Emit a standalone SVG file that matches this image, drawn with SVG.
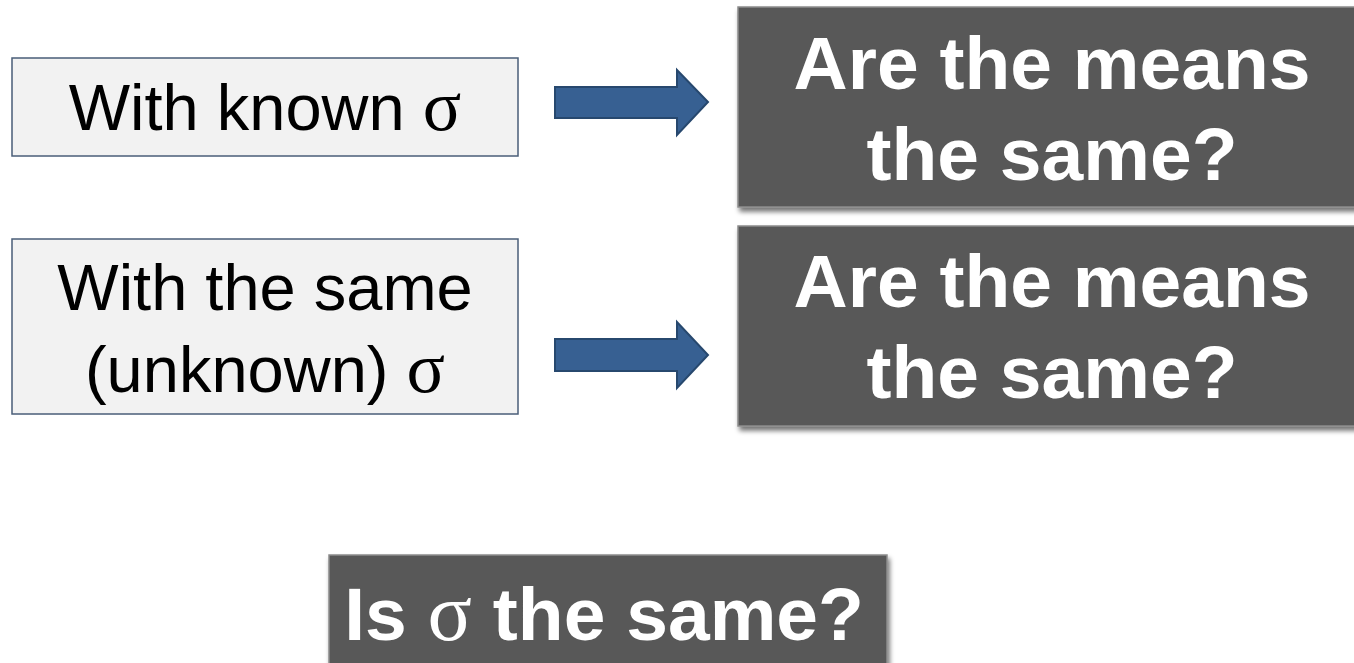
<svg xmlns="http://www.w3.org/2000/svg" width="1354" height="663" viewBox="0 0 1354 663">
<style>
.lbox{fill:#f2f2f2;stroke:#4a5e78;stroke-width:1.5}
.dbox{fill:#595959;stroke:#8c8c8c;stroke-width:1.5}
.lt{font-family:"Liberation Sans",Arial,sans-serif;font-size:65px;fill:#000;text-anchor:middle}
.dt{font-family:"Liberation Sans",Arial,sans-serif;font-size:75px;font-weight:bold;fill:#fff;text-anchor:middle}
.sig{font-family:"Liberation Serif","Times New Roman",serif;font-weight:normal;font-size:1.1em}
.arr{fill:#376092;stroke:#27486e;stroke-width:2}
</style>
<defs>
<filter id="sh" x="-5%" y="-5%" width="115%" height="125%">
<feGaussianBlur in="SourceAlpha" stdDeviation="2.5"/>
<feOffset dx="2" dy="4"/>
<feComponentTransfer><feFuncA type="linear" slope="0.55"/></feComponentTransfer>
<feMerge><feMergeNode/><feMergeNode in="SourceGraphic"/></feMerge>
</filter>
</defs>
<g id="known">
<rect class="lbox" x="12" y="58" width="506" height="98"/>
<text class="lt" x="265" y="130">With known <tspan class="sig">σ</tspan></text>
</g>
<g id="unknown">
<rect class="lbox" x="12" y="239" width="506" height="175"/>
<text class="lt" x="265" y="310">With the same</text>
<text class="lt" x="265" y="392">(unknown) <tspan class="sig">σ</tspan></text>
</g>
<g id="means1">
<rect class="dbox" x="738" y="7" width="630" height="200" filter="url(#sh)"/>
<text class="dt" x="1052" y="89">Are the means</text>
<text class="dt" x="1052" y="180">the same?</text>
</g>
<g id="means2">
<rect class="dbox" x="738" y="226" width="630" height="200" filter="url(#sh)"/>
<text class="dt" x="1052" y="307">Are the means</text>
<text class="dt" x="1052" y="398">the same?</text>
</g>
<g id="sigma">
<rect class="dbox" x="329" y="555" width="558" height="120" filter="url(#sh)"/>
<text class="dt" x="604" y="640">Is <tspan class="sig">σ</tspan> the same?</text>
</g>
<g id="connectors">
<path class="arr" d="M555 87 H677 V70 L708 102 L677 135 V118 H555 Z"/>
<path class="arr" d="M555 339 H677 V322 L708 355 L677 388 V371 H555 Z"/>
</g>
</svg>
